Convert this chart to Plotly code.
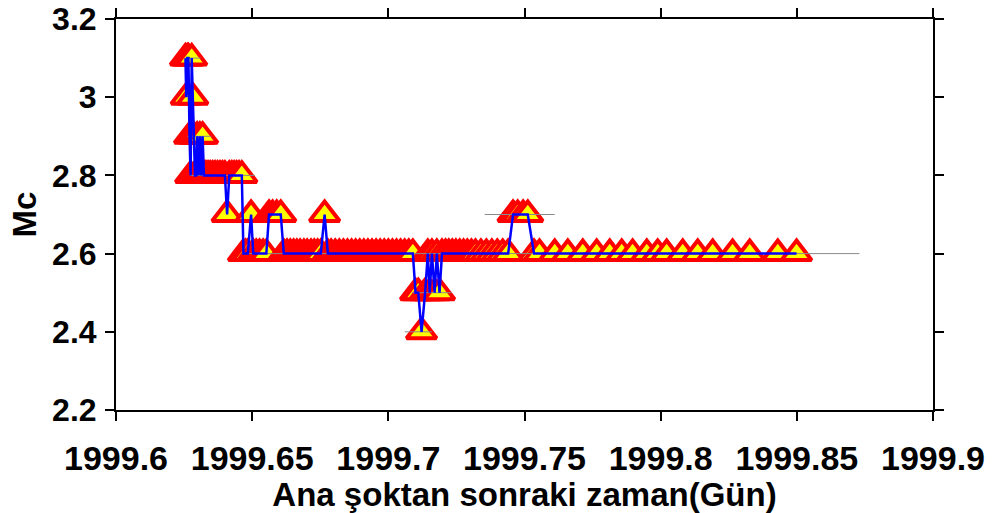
import plotly.graph_objects as go

# Time (decimal year) and Mc values
time = [
    1999.6255, 1999.6258, 1999.6262, 1999.6266, 1999.6270, 1999.6274, 1999.6278, 1999.6282,
    1999.6286, 1999.6290, 1999.6294, 1999.6298, 1999.6303, 1999.6308, 1999.6313, 1999.6318,
    1999.6323, 1999.6330, 1999.6338, 1999.6346, 1999.6355, 1999.6364, 1999.6373, 1999.6382,
    1999.6391, 1999.6400, 1999.6408, 1999.6416, 1999.6425, 1999.6434, 1999.6443, 1999.6452,
    1999.6462, 1999.6468, 1999.6476, 1999.6484, 1999.6496, 1999.6504, 1999.6515, 1999.6527,
    1999.6540, 1999.6552, 1999.6562, 1999.6575, 1999.6590, 1999.6605, 1999.6616, 1999.6628,
    1999.6640, 1999.6652, 1999.6664, 1999.6676, 1999.6690, 1999.6702, 1999.6716, 1999.6728,
    1999.6740, 1999.6752, 1999.6766, 1999.6778, 1999.6790, 1999.6805, 1999.6820, 1999.6835,
    1999.6850, 1999.6865, 1999.6880, 1999.6895, 1999.6910, 1999.6925, 1999.6940, 1999.6955,
    1999.6970, 1999.6985, 1999.7000, 1999.7015, 1999.7030, 1999.7045, 1999.7060, 1999.7075,
    1999.7090, 1999.7100, 1999.7110, 1999.7122, 1999.7135, 1999.7145, 1999.7152, 1999.7160,
    1999.7170, 1999.7178, 1999.7188, 1999.7197, 1999.7210, 1999.7222, 1999.7235, 1999.7248,
    1999.7262, 1999.7276, 1999.7290, 1999.7305, 1999.7320, 1999.7340, 1999.7360, 1999.7380,
    1999.7400, 1999.7420, 1999.7440, 1999.7458, 1999.7475, 1999.7495, 1999.7512, 1999.7535,
    1999.7555, 1999.7611, 1999.7659, 1999.7714, 1999.7765, 1999.7813, 1999.7857, 1999.7897,
    1999.7949, 1999.7989, 1999.8022, 1999.8081, 1999.8136, 1999.8191, 1999.8264, 1999.8327,
    1999.8430, 1999.8499,
]
mc = [
    3.1, 3.0, 3.1, 3.1, 2.9, 2.8, 3.1, 3.0,
    2.9, 2.8, 2.8, 2.9, 2.8, 2.9, 2.8, 2.9,
    2.8, 2.8, 2.8, 2.8, 2.8, 2.8, 2.8, 2.8,
    2.8, 2.8, 2.7, 2.8, 2.8, 2.8, 2.8, 2.8,
    2.8, 2.6, 2.6, 2.6, 2.7, 2.6, 2.6, 2.6,
    2.6, 2.6, 2.7, 2.7, 2.7, 2.7, 2.6, 2.6,
    2.6, 2.6, 2.6, 2.6, 2.6, 2.6, 2.6, 2.6,
    2.6, 2.6, 2.7, 2.6, 2.6, 2.6, 2.6, 2.6,
    2.6, 2.6, 2.6, 2.6, 2.6, 2.6, 2.6, 2.6,
    2.6, 2.6, 2.6, 2.6, 2.6, 2.6, 2.6, 2.6,
    2.6, 2.5, 2.5, 2.4, 2.5, 2.6, 2.5, 2.6,
    2.5, 2.6, 2.5, 2.6, 2.6, 2.6, 2.6, 2.6,
    2.6, 2.6, 2.6, 2.6, 2.6, 2.6, 2.6, 2.6,
    2.6, 2.6, 2.6, 2.7, 2.7, 2.7, 2.7, 2.6,
    2.6, 2.6, 2.6, 2.6, 2.6, 2.6, 2.6, 2.6,
    2.6, 2.6, 2.6, 2.6, 2.6, 2.6, 2.6, 2.6,
    2.6, 2.6,
]

# Horizontal grey reference segments (start time, end time, Mc level)
seg_start = [1999.6255, 1999.6262, 1999.6272, 1999.6462, 1999.7354, 1999.7086, 1999.7060]
seg_end   = [1999.6310, 1999.6350, 1999.6510, 1999.8730, 1999.7611, 1999.7233, 1999.7160]
seg_level = [3.1, 2.9, 2.8, 2.6, 2.7, 2.5, 2.4]

x_ticks = [1999.6, 1999.65, 1999.7, 1999.75, 1999.8, 1999.85, 1999.9]
x_labels = ["1999.6", "1999.65", "1999.7", "1999.75", "1999.8", "1999.85", "1999.9"]
y_ticks = [2.2, 2.4, 2.6, 2.8, 3.0, 3.2]
y_labels = ["2.2", "2.4", "2.6", "2.8", "3", "3.2"]

FONT = "Arial, Liberation Sans, Helvetica, sans-serif"

fig = go.Figure()

fig.add_trace(go.Scatter(
    x=time, y=mc, mode="markers",
    marker=dict(symbol="triangle-up", size=26, color="#FFFF00",
                line=dict(color="#FF0000", width=4)),
    hoverinfo="x+y", showlegend=False,
))

gx, gy = [], []
for s, e, lv in zip(seg_start, seg_end, seg_level):
    gx += [s, e, None]
    gy += [lv, lv, None]
fig.add_trace(go.Scatter(x=gx, y=gy, mode="lines",
                         line=dict(color="#8a8a8a", width=1),
                         hoverinfo="skip", showlegend=False))

fig.add_trace(go.Scatter(x=time, y=mc, mode="lines",
                         line=dict(color="#0000FF", width=2.5),
                         hoverinfo="skip", showlegend=False))

axis_common = dict(
    showline=True, linecolor="black", linewidth=2, mirror="ticks",
    ticks="outside", ticklen=9, tickwidth=2, tickcolor="black",
    showgrid=False, zeroline=False, automargin=False,
    ticklabeloverflow="allow",
)

fig.update_layout(
    width=993, height=513,
    margin=dict(l=116, r=60, t=19, b=103),
    paper_bgcolor="white", plot_bgcolor="white",
    xaxis=dict(range=[1999.6, 1999.9], tickvals=x_ticks, ticktext=x_labels,
               ticklabelstandoff=8,
               tickfont=dict(family=FONT, size=34, color="black", weight="bold"),
               title=dict(text="Ana şoktan sonraki zaman(Gün)", standoff=2,
                          font=dict(family=FONT, size=33, color="black", weight="bold")),
               **axis_common),
    yaxis=dict(range=[2.2, 3.2], tickvals=y_ticks, ticktext=y_labels,
               ticklabelstandoff=2,
               tickfont=dict(family=FONT, size=32, color="black", weight="bold"),
               title=dict(text="Mc", standoff=6,
                          font=dict(family=FONT, size=33, color="black", weight="bold")),
               **axis_common),
)

fig.write_html("out.html")
